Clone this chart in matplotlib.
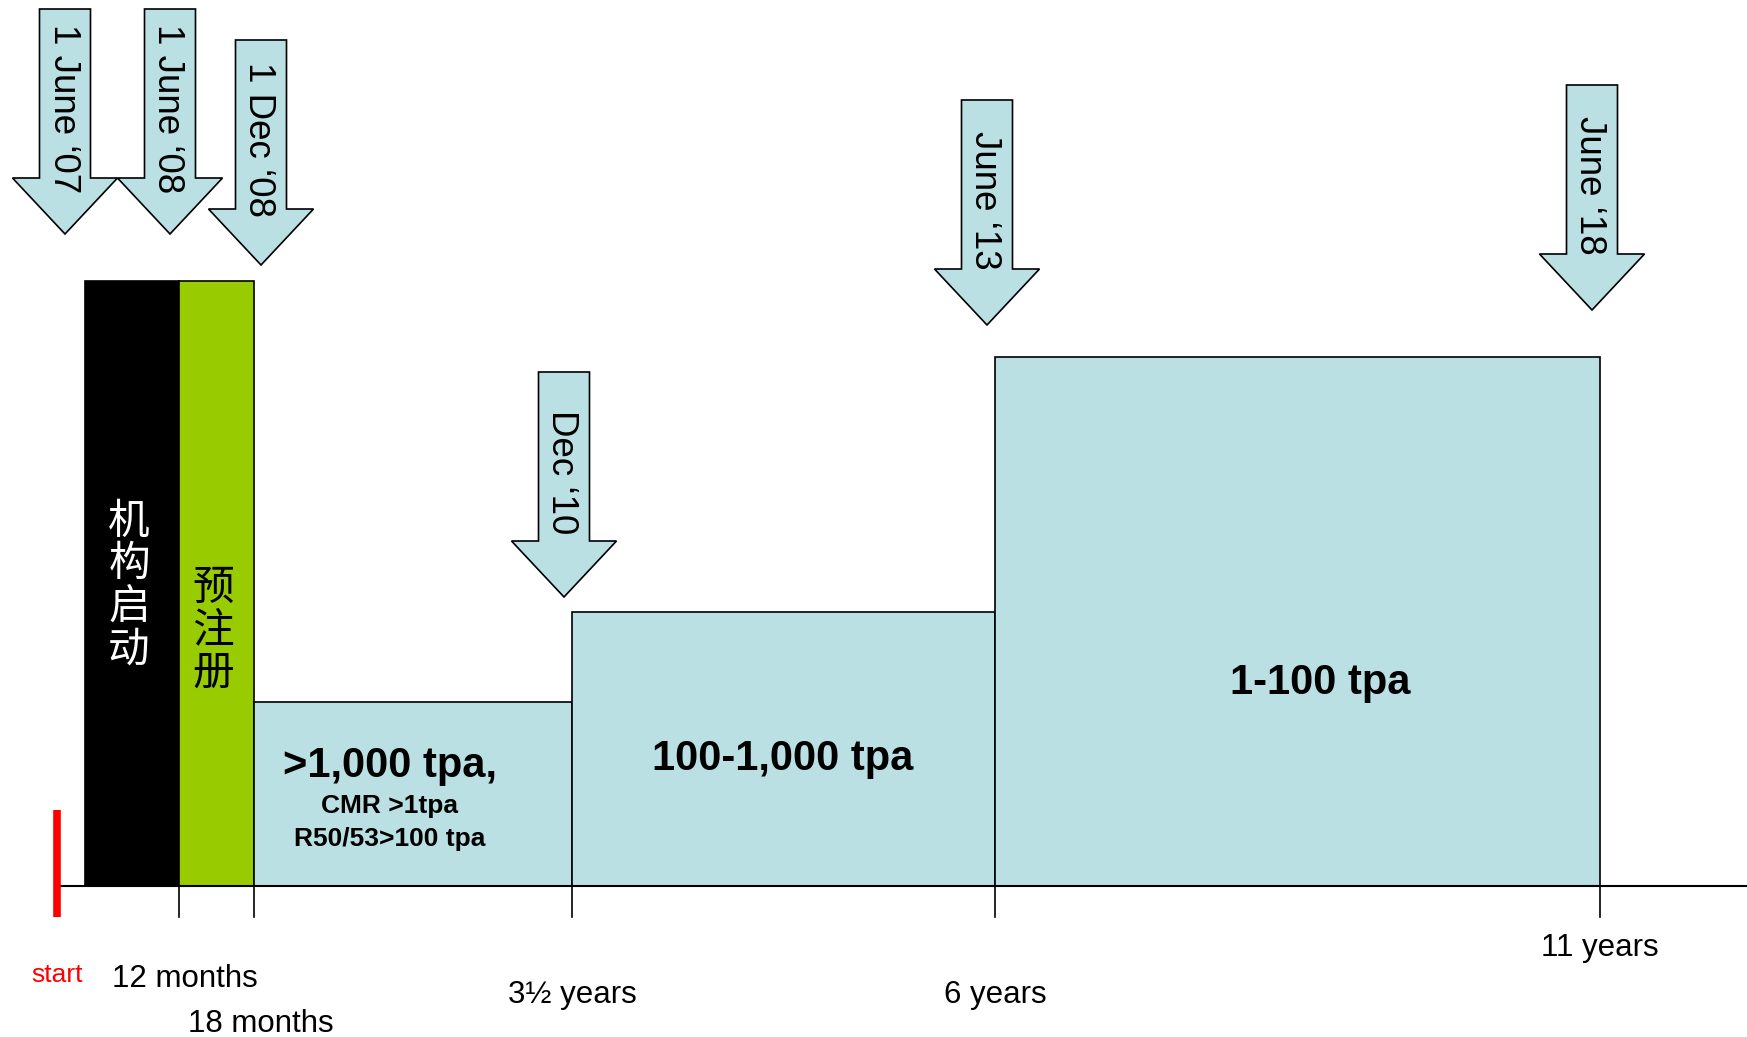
import matplotlib
matplotlib.use("Agg")
import matplotlib.pyplot as plt
from matplotlib.patches import Rectangle, FancyArrow

plt.rcParams['font.family'] = ['Liberation Sans', 'Noto Sans CJK SC', 'DejaVu Sans']

# Phases along the timeline (schematic layout units, baseline = 0)
phase_starts = [85, 179, 254, 572, 995]
phase_ends = [179, 254, 572, 995, 1600]
phase_heights = [605, 605, 184, 274, 529]
phase_colors = ['#000000', '#99CC00', '#BAE0E4', '#BAE0E4', '#BAE0E4']

# Deadline arrows: x position and tip height
milestone_labels = ['1 June \u201807', '1 June \u201808', '1 Dec \u201808',
                    'Dec \u201810', 'June \u201813', 'June \u201818']
milestone_x = [65, 170, 261, 564, 987, 1592]
milestone_tip = [652, 652, 621, 289, 561, 576]

# Timeline ticks
tick_x = [179, 254, 572, 995, 1600]
tick_labels = ['12 months', '18 months', '3\u00bd years', '6 years', '11 years']
tick_label_y = [-93, -138, -109, -109, -62]
tick_label_x = [185, 261, 572, 995, 1600]

fig = plt.figure(figsize=(17.47, 10.37), dpi=100)
ax = fig.add_axes([0, 0, 1, 1])
ax.set_xlim(0, 1747)
ax.set_ylim(-151, 886)
ax.axis('off')

# baseline
ax.plot([61, 1747], [0, 0], color='black', lw=1.5, zorder=3)

# phase boxes
for x0, x1, h, c in zip(phase_starts, phase_ends, phase_heights, phase_colors):
    ax.add_patch(Rectangle((x0, 0), x1 - x0, h, facecolor=c, edgecolor='black',
                           lw=1.2, zorder=2))

# ticks below baseline
for x in tick_x:
    ax.plot([x, x], [0, -31], color='black', lw=1.2, zorder=3)
for x, y, s in zip(tick_label_x, tick_label_y, tick_labels):
    ax.text(x, y, s, ha='center', va='center', fontsize=22.5, color='black')

# start marker
ax.plot([57, 57], [76, -31], color='#FF0000', lw=5.5, solid_capstyle='butt', zorder=4)
ax.text(57, -89, 'start', ha='center', va='center', fontsize=19, color='#FF0000')

# phase labels
ax.text(129, 300, '\n'.join('机构启动'), ha='center', va='center', fontsize=30,
        color='white', linespacing=1.05, family=['Noto Sans CJK SC'])
ax.text(213, 255, '\n'.join('预注册'), ha='center', va='center', fontsize=30,
        color='black', linespacing=1.05, family=['Noto Sans CJK SC'])
ax.text(390, 120, '>1,000 tpa,', ha='center', va='center', fontsize=30,
        fontweight='bold')
ax.text(390, 80, 'CMR >1tpa', ha='center', va='center', fontsize=19,
        fontweight='bold')
ax.text(390, 47, 'R50/53>100 tpa', ha='center', va='center', fontsize=19,
        fontweight='bold')
ax.text(783, 127, '100-1,000 tpa', ha='center', va='center', fontsize=30,
        fontweight='bold')
ax.text(1320, 203, '1-100 tpa', ha='center', va='center', fontsize=30,
        fontweight='bold')

# deadline arrows
arrow_len = 225
for lab, x, tip in zip(milestone_labels, milestone_x, milestone_tip):
    top = tip + arrow_len
    ax.add_patch(FancyArrow(x, top, 0, -arrow_len, width=51, head_width=105,
                            head_length=56, length_includes_head=True,
                            facecolor='#BAE0E4', edgecolor='black', lw=1.2,
                            zorder=5))
    ax.text(x - 2, top - 100, lab, rotation=-90, ha='center', va='center',
            fontsize=26.5, color='black', zorder=6, rotation_mode='anchor')

fig.savefig('out.png', dpi=100)
